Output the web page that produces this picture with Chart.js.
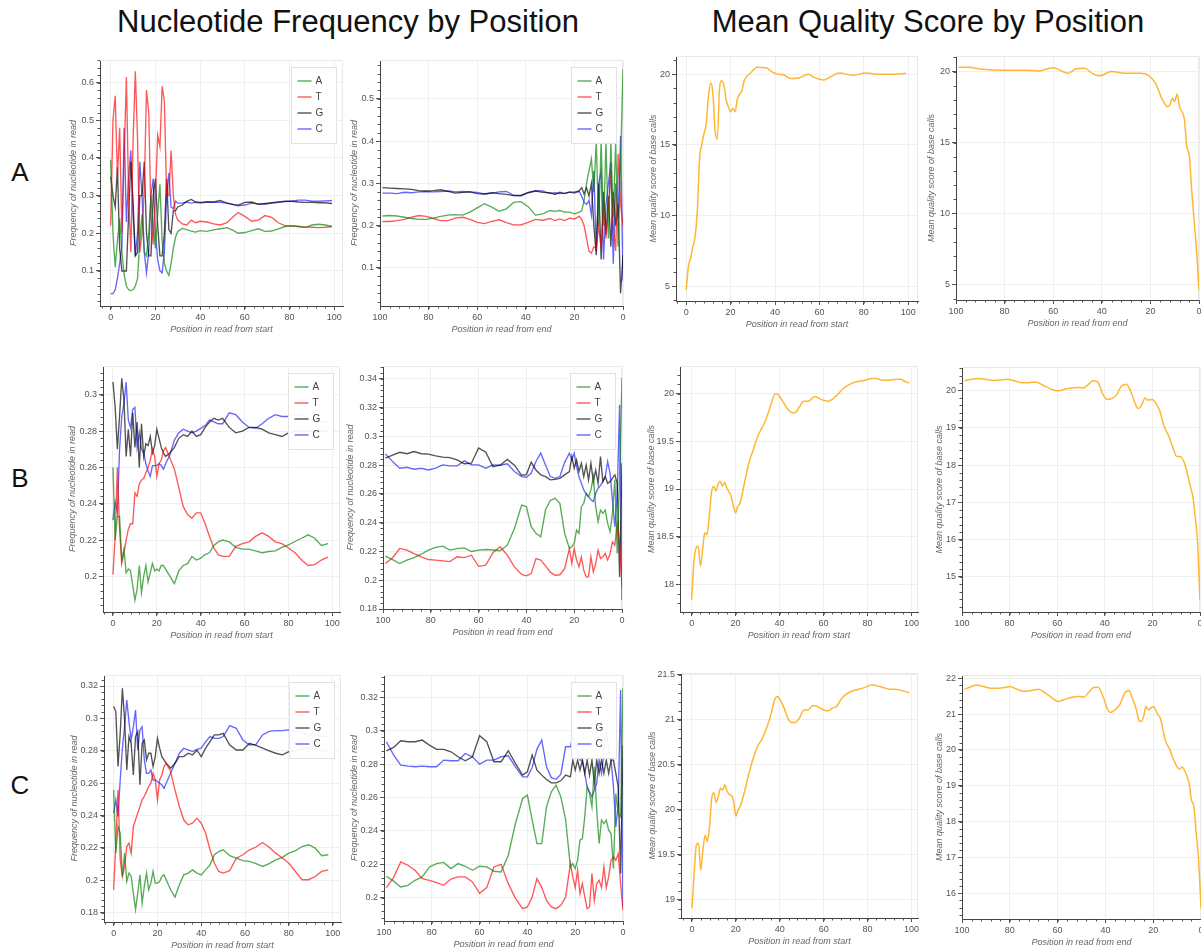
<!DOCTYPE html>
<html>
<head>
<meta charset="utf-8">
<script src="https://cdn.jsdelivr.net/npm/chart.js@4.4.1/dist/chart.umd.min.js"></script>
<style>
  body { margin: 0; width: 1201px; height: 951px; overflow: hidden; background: #fff; position: relative;
         font-family: "Liberation Sans", Arial, sans-serif; }
  .head { position: absolute; top: 4px; line-height: 36px; font-size: 31px; text-align: center; color: #111; white-space: nowrap; }
  .row { position: absolute; left: 4px; width: 32px; line-height: 32px; font-size: 26px; text-align: center; color: #111; }
  canvas { position: absolute; }
</style>
</head>
<body>
<div class="head" style="left:0;width:696px">Nucleotide Frequency by Position</div>
<div class="head" style="left:678px;width:500px">Mean Quality Score by Position</div>
<div class="row" style="top:156px">A</div>
<div class="row" style="top:462px">B</div>
<div class="row" style="top:769px">C</div>

<script>
// ---- data ----
// row A, nucleotide frequency from start
const posA1 = [0,1,2,3,4,5,6,7,8,9,10,11,12,13,14,15,16,17,18,19,20,21,22,23,24,25,26,27,28,29,30,
  32,34,36,38,40,43,46,49,52,55,57,60,63,66,69,72,75,78,81,84,87,90,93,96,99];
const a1A = [.395,.20,.11,.18,.24,.15,.09,.06,.05,.048,.05,.06,.08,.18,.25,.15,.14,.20,.30,.22,.16,.25,.33,.18,.12,.10,.088,.12,.16,.19,.205,
  .213,.21,.206,.203,.207,.205,.209,.212,.215,.207,.200,.202,.207,.212,.205,.206,.212,.218,.22,.218,.215,.222,.224,.222,.218];
const a1T = [.22,.50,.565,.35,.48,.20,.40,.615,.30,.15,.45,.63,.45,.15,.20,.32,.58,.52,.25,.17,.30,.46,.43,.59,.55,.30,.30,.42,.30,.25,.235,
  .225,.222,.235,.228,.232,.230,.225,.222,.228,.245,.255,.245,.232,.235,.247,.242,.228,.220,.219,.218,.217,.216,.215,.216,.218];
const a1G = [.35,.30,.27,.375,.16,.10,.10,.10,.25,.39,.28,.14,.15,.30,.30,.39,.20,.14,.14,.30,.345,.22,.14,.14,.20,.345,.21,.20,.26,.26,.27,
  .275,.285,.29,.283,.282,.283,.283,.287,.28,.276,.275,.282,.283,.277,.279,.281,.283,.285,.285,.283,.282,.282,.281,.281,.279];
const a1C = [.04,.04,.05,.08,.12,.165,.48,.23,.35,.42,.25,.14,.20,.39,.30,.15,.095,.15,.30,.345,.20,.13,.10,.095,.15,.30,.36,.27,.265,.285,.28,
  .28,.283,.28,.282,.28,.283,.282,.282,.28,.276,.273,.275,.28,.278,.277,.28,.282,.284,.285,.288,.288,.285,.285,.286,.287];

// row A, nucleotide frequency from end
const posA2 = [99,96,93,90,87,84,81,78,75,72,69,66,63,60,57,54,51,48,45,42,39,36,33,30,
  28,26,24,22,20,18,17,16,15,14,13,12,11,10,9,8,7,6,5,4,3,2,1,0];
const a2A = [.223,.224,.223,.22,.217,.215,.215,.218,.222,.225,.226,.225,.232,.242,.252,.244,.234,.24,.255,.257,.245,.225,.228,.236,
  .234,.236,.232,.232,.228,.232,.235,.26,.3,.33,.358,.28,.4,.2,.4,.2,.4,.17,.4,.22,.4,.15,.35,.57];
const a2T = [.21,.21,.212,.215,.22,.224,.222,.217,.212,.212,.218,.22,.215,.208,.205,.21,.214,.207,.202,.202,.208,.215,.213,.217,
  .212,.216,.212,.218,.216,.222,.215,.2,.17,.14,.135,.15,.145,.2,.15,.245,.17,.24,.33,.2,.14,.37,.25,.2];
const a2G = [.29,.289,.288,.287,.286,.283,.282,.283,.285,.281,.277,.279,.28,.276,.275,.278,.276,.274,.271,.272,.278,.282,.279,.278,
  .274,.279,.276,.28,.277,.283,.29,.275,.29,.27,.3,.2,.13,.3,.12,.28,.18,.27,.15,.28,.2,.25,.04,.13];
const a2C = [.277,.277,.276,.279,.278,.28,.281,.28,.281,.282,.28,.281,.28,.279,.275,.277,.28,.281,.272,.27,.279,.283,.282,.276,
  .278,.276,.277,.279,.28,.281,.27,.255,.25,.26,.225,.33,.14,.3,.33,.12,.25,.3,.35,.11,.3,.22,.412,.07];

// row A, quality
const posA3 = [0,1,2,3,4,5,6,7,8,9,10,11,12,13,14,15,16,17,18,19,20,21,22,23,24,25,26,27,
  29,32,36,39,42,44,47,51,55,57,62,65,69,75,81,87,93,99];
const qA3 = [4.72,6.4,7.0,7.8,8.5,10.3,14.0,15.0,15.8,16.5,18.4,19.4,18.7,16.0,15.4,19.0,19.55,19.2,18.2,17.7,17.35,17.6,17.35,18.2,18.6,18.8,19.5,19.8,
  20.1,20.5,20.47,20.14,20.0,19.95,19.7,19.76,20.0,19.83,19.6,19.83,20.1,19.93,20.1,20.0,20.0,20.07];
const posA4 = [99,95,89,81,72,66,60,54,51,47,44,41,36,30,24,21,18,15,13,12,11,10,9,8,6,5,4,3,2,1,0];
const qA4 = [20.3,20.3,20.16,20.1,20.1,20.05,20.28,19.88,20.16,20.23,19.88,19.7,20.0,19.88,19.88,19.76,19.2,18.0,17.53,17.65,
  18.12,17.9,18.42,17.53,16.6,14.7,14.1,11.6,9.5,7.4,4.6];

// rows B and C share the same sampled positions
const posStart = [0,1,2,3,4,5,6,7,8,9,10,11,12,13,14,15,16,17,18,19,20,21,22,23,24,
  26,28,30,32,34,36,38,40,42,44,46,48,50,53,56,59,62,65,68,71,74,77,80,83,86,89,92,95,98];
const posEnd = [99,96,93,90,87,84,81,78,75,72,69,66,63,60,57,54,51,48,45,42,
  40,38,36,34,32,30,28,26,24,22,21,20,19,18,17,16,15,14,13,12,11,10,9,8,7,6,5,4,3,2,1,0];

const b1A = [.260,.220,.233,.233,.209,.215,.202,.204,.203,.195,.187,.193,.206,.191,.200,.206,.197,.202,.207,.203,.204,.203,.206,.206,.204,
  .200,.196,.203,.206,.207,.211,.209,.210,.212,.213,.217,.219,.220,
  .219,.216,.215,.215,.214,.213,.2137,.214,.216,.2174,.2192,.221,.2229,.221,.217,.218];
const b1T = [.201,.222,.260,.226,.207,.213,.220,.226,.229,.229,.246,.244,.251,.253,.254,.257,.260,.264,.270,.266,.255,.262,.264,.269,.271,
  .265,.259,.249,.2385,.234,.232,.235,.235,.229,.222,.2156,.212,.211,
  .211,.2165,.218,.219,.222,.224,.222,.219,.218,.2156,.213,.209,.206,.2065,.209,.2106];
const b1G = [.307,.293,.270,.288,.309,.297,.266,.281,.266,.290,.271,.285,.260,.284,.266,.273,.272,.277,.268,.272,.281,.276,.271,.268,.266,
  .268,.271,.276,.278,.277,.280,.277,.278,.282,.285,.287,.286,.287,
  .282,.279,.280,.282,.282,.281,.279,.278,.277,.279,.28,.28,.28,.28,.28,.28];
const b1C = [.231,.241,.235,.270,.288,.295,.307,.286,.282,.292,.293,.271,.279,.270,.268,.262,.258,.255,.261,.261,.261,.262,.261,.259,.262,
  .267,.275,.279,.281,.280,.279,.280,.2815,.283,.286,.285,.284,.284,
  .290,.289,.285,.282,.2815,.284,.287,.289,.288,.288,.289,.289,.287,.286,.285,.285];

const b2A = [.2167,.2143,.2116,.214,.2158,.2181,.2209,.2228,.2237,.221,.222,.2225,.22,.221,.2214,.221,.2205,.2244,.236,.2523,
  .2512,.2372,.2326,.2302,.249,.2555,.257,.2535,.2326,.2221,
  .2233,.2256,.2349,.2326,.2512,.2535,.2605,.2581,.2628,.2721,.2512,.2407,.2488,.2465,.2488,.2395,.2337,.2465,.2698,.2186,.2721,.3407];
const b2T = [.2116,.2157,.2221,.221,.2185,.2163,.2144,.214,.2135,.213,.2163,.2157,.2174,.2097,.2105,.2192,.2233,.2175,.2093,.204,
  .2031,.2046,.2151,.214,.21,.2056,.2035,.2038,.2081,.222,
  .2116,.2221,.214,.2093,.2163,.207,.2023,.2023,.2163,.2058,.2116,.2209,.2151,.2163,.2186,.214,.2186,.2267,.2244,.2395,.2256,.1953];
const b2G = [.285,.287,.289,.288,.2895,.288,.2877,.2865,.2856,.2853,.2837,.281,.2814,.292,.289,.279,.280,.284,.280,.273,
  .2735,.282,.2767,.2733,.2721,.2698,.2702,.2709,.2733,.2756,
  .286,.2779,.2837,.2756,.2814,.2721,.2802,.2698,.2814,.2686,.2767,.2674,.286,.2686,.2721,.2674,.2686,.2709,.2733,.2674,.2023,.2814];
const b2C = [.2879,.2825,.2779,.2786,.2772,.2779,.2767,.2779,.2802,.2795,.2795,.283,.2802,.2802,.2779,.2802,.280,.281,.2756,.2721,
  .2716,.2744,.2826,.2884,.2802,.2721,.2709,.2721,.282,.2884,
  .2837,.2884,.2791,.272,.2674,.2628,.260,.2581,.256,.2547,.2605,.264,.266,.2686,.2721,.2826,.2744,.2558,.2372,.2605,.3221,.186];

const posB3 = [0,1,2,3,4,5,6,7,8,9,10,11,12,13,14,15,16,17,18,19,20,21,22,24,26,28,30,32,34,36,38,39,40,
  42,44,46,47,49,51,53,56,58,60,62,64,66,68,70,73,76,79,82,84,87,90,93,95,97,99];
const qB3 = [17.84,18.23,18.38,18.40,18.19,18.37,18.54,18.52,18.71,18.96,19.03,18.98,19.05,19.08,19.03,19.07,19.01,18.97,18.92,18.82,
  18.75,18.82,18.85,19.06,19.27,19.41,19.55,19.64,19.74,19.88,20.0,20.0,19.97,
  19.9,19.83,19.8,19.8,19.86,19.92,19.92,19.97,19.95,19.93,19.92,19.94,19.98,20.03,20.07,20.11,20.13,20.14,20.16,20.16,20.14,20.14,20.15,20.15,20.13,20.11];
const posB4 = [99,96,93,90,87,84,81,78,75,72,69,66,63,60,57,54,51,49,47,45,43,41,39,37,35,33,31,29,27,26,25,23,22,20,19,17,15,13,11,10,8,6,5,4,3,2,1,0];
const qB4 = [20.26,20.3,20.32,20.3,20.27,20.28,20.3,20.26,20.21,20.21,20.23,20.14,20.05,19.99,20.03,20.07,
  20.08,20.07,20.16,20.26,20.23,19.92,19.76,19.79,19.89,20.12,20.17,19.96,19.61,19.52,19.56,19.8,19.74,19.76,19.7,19.47,
  19.03,18.76,18.4,18.24,18.22,17.95,17.68,17.42,17.15,16.61,15.9,14.37];

const c1A = [.2559,.2168,.2333,.2291,.2024,.2168,.1993,.2045,.2024,.1921,.1819,.1921,.2034,.186,.1963,.2045,.1942,.1983,.2055,.1983,.1983,.1993,.2024,.2034,.2004,
  .1942,.1897,.1973,.2034,.2045,.2065,.2045,.2034,.2065,.2096,.2158,.2178,.2189,
  .2152,.2137,.2122,.2117,.2104,.2086,.2103,.2127,.2142,.2168,.2183,.2209,.222,.2199,.2152,.2158];
const c1T = [.1942,.223,.2559,.2127,.2024,.2086,.2209,.223,.2168,.2333,.2374,.2415,.2456,.2497,.2518,.2548,.2579,.26,.2661,.262,.2497,.262,.2651,.2703,.2723,
  .2672,.2559,.2456,.2374,.2343,.2353,.2384,.2353,.2291,.2189,.2106,.2055,.2045,
  .206,.2137,.2158,.2189,.2206,.2234,.2205,.2168,.2138,.2106,.2055,.2004,.2004,.2024,.2055,.2065];
const c1G = [.3073,.3042,.2703,.2908,.3186,.299,.2682,.2888,.2846,.2651,.2888,.2918,.259,.2846,.2867,.2744,.2785,.2785,.2703,.2764,.2877,.2816,.2764,.2744,.2723,
  .2692,.2723,.2764,.2764,.2785,.2775,.2805,.2764,.2816,.2857,.2898,.2898,.2908,
  .2836,.2805,.2805,.2846,.2833,.2816,.28,.2785,.2775,.2795,.28,.281,.282,.281,.28,.28];
const c1C = [.2415,.2497,.2394,.262,.2816,.2949,.3114,.298,.2867,.2949,.3052,.2805,.2929,.2949,.2744,.2661,.2661,.2682,.262,.262,.261,.26,.259,.2569,.26,
  .2661,.2723,.2785,.2816,.2805,.2795,.2809,.2816,.2857,.2888,.2877,.2877,.2888,
  .2955,.2939,.2867,.2836,.284,.2898,.292,.2925,.2925,.2929,.292,.291,.29,.2895,.289,.2888];

const c2A = [.2128,.2099,.2064,.2074,.2104,.2124,.2184,.2204,.2211,.2174,.2204,.2188,.2164,.2188,.2184,.2158,.2154,.2254,.2444,.2594,
  .2614,.2464,.2324,.2324,.2544,.2634,.2674,.2604,.2464,.2184,
  .2204,.2174,.2224,.2344,.2354,.2484,.2664,.2624,.2544,.2784,.2524,.2324,.2464,.2444,.2464,.2404,.2384,.2174,.2624,.2504,.2484,.3254];
const c2T = [.206,.212,.2214,.2194,.2164,.2114,.2104,.209,.2074,.2111,.2124,.2124,.2094,.2026,.206,.2184,.22,.2084,.1996,.1934,
  .1944,.2004,.2114,.206,.1984,.1944,.1934,.1954,.2004,.2204,
  .2124,.206,.2164,.2024,.2084,.2004,.1934,.1944,.2144,.1984,.2084,.2104,.206,.2184,.206,.2124,.2224,.2244,.2224,.2264,.2084,.1924];
const c2G = [.288,.29,.294,.2934,.2934,.2944,.2914,.2888,.2888,.2874,.2844,.282,.2844,.297,.2934,.2814,.2814,.288,.2804,.2734,
  .2754,.2854,.2764,.2734,.2708,.2688,.2688,.27,.2734,.2724,
  .2824,.2764,.2824,.2764,.2824,.2744,.2824,.2734,.2824,.2684,.2824,.2744,.2824,.2744,.2824,.2744,.2824,.2824,.2744,.2664,.2144,.2914];
const c2C = [.2934,.2856,.2794,.2788,.2784,.2788,.2784,.2784,.2824,.282,.282,.2864,.2844,.28,.2824,.2824,.2844,.285,.2784,.2724,
  .2724,.278,.289,.2944,.2784,.2719,.2709,.274,.2904,.2904,
  .2964,.2904,.2864,.2824,.2824,.2744,.2664,.2634,.2604,.2644,.2684,.2824,.2744,.2864,.30,.2884,.2824,.2664,.2424,.2564,.3244,.1944];

const posC3 = [0,1,2,3,4,5,6,7,8,9,10,11,12,13,14,15,16,17,18,19,20,21,22,24,26,28,30,32,34,36,37,38,39,40,
  42,44,46,47,49,51,53,55,57,60,62,64,66,68,70,73,76,79,82,84,87,90,92,95,99];
const qC3 = [18.91,19.3,19.61,19.63,19.33,19.56,19.72,19.65,19.82,20.13,20.19,20.08,20.15,20.24,20.22,20.28,20.21,20.17,20.16,20.09,
  19.93,20.0,20.04,20.21,20.41,20.58,20.71,20.79,20.91,21.06,21.17,21.24,21.26,21.23,
  21.13,21.0,20.97,20.97,21.02,21.11,21.11,21.16,21.15,21.11,21.1,21.13,21.15,21.23,21.28,21.32,21.34,21.36,21.39,21.38,21.36,21.34,21.34,21.33,21.3];
const posC4 = [99,96,94,91,88,85,82,80,77,74,71,68,65,62,60,57,54,51,49,47,45,43,41,39,38,36,34,32,30,29,
  27,26,25,24,23,22,20,18,17,15,13,12,10,9,8,7,5,4,3,2,1,0];
const qC4 = [21.69,21.77,21.81,21.77,21.72,21.72,21.74,21.77,21.69,21.63,21.66,21.69,21.58,21.44,21.35,21.41,21.47,21.49,21.47,21.6,
  21.74,21.75,21.49,21.12,21.04,21.12,21.26,21.58,21.66,21.49,
  21.12,20.82,20.79,20.93,21.21,21.12,21.21,20.98,20.88,20.28,20.0,19.81,19.53,19.46,19.52,19.44,19.07,18.6,18.42,17.67,16.93,15.58];

const xTicks = [0, 20, 40, 60, 80, 100];
const nucLabels = ['A', 'T', 'G', 'C'];

// ---- styling ----
const FONT = '"Liberation Sans", Arial, sans-serif';
const nucColors = { A: 'rgba(0,128,0,0.66)', T: 'rgba(255,0,0,0.66)', G: 'rgba(0,0,0,0.68)', C: 'rgba(0,0,255,0.6)' };
const qualColor = 'rgba(255,165,0,0.8)';

const panels = [
  { box: [100, 60, 343, 306],      x: [-4.8, 103.9], rev: false, y: [0.007, 0.66],   yt: [.1,.2,.3,.4,.5,.6], ym: .02, gap: 27,
    pos: posA1, nuc: [a1A, a1T, a1G, a1C] },
  { box: [380, 60, 623.3, 305.7],  x: [0, 100], rev: true, y: [0.01, 0.592],   yt: [.1,.2,.3,.4,.5], ym: .02, gap: 26,
    pos: posA2, nuc: [a2A, a2T, a2G, a2C] },
  { box: [675.7, 56, 918, 301],    x: [-4.6, 104.4], rev: false, y: [3.94, 21.3], yt: [5,10,15,20], ym: 1, gap: 22.4,
    pos: posA3, q: qA3 },
  { box: [955.7, 56, 1199, 300],   x: [0, 100], rev: true, y: [3.9, 21.1],      yt: [5,10,15,20], ym: 1, gap: 24.7,
    pos: posA4, q: qA4 },
  { box: [102.7, 366, 340, 612.3], x: [-4.55, 103.5], rev: false, y: [0.1804, 0.3158], yt: [.2,.22,.24,.26,.28,.3], ym: .004, gap: 31,
    pos: posStart, nuc: [b1A, b1T, b1G, b1C] },
  { box: [383.3, 366, 622.3, 609], x: [0, 100], rev: true, y: [0.18, 0.349], yt: [.18,.2,.22,.24,.26,.28,.3,.32,.34], ym: .004, gap: 32.6,
    pos: posEnd, nuc: [b2A, b2T, b2G, b2C] },
  { box: [680, 366, 918, 612.3],   x: [-5.3, 103], rev: false, y: [17.71, 20.29], yt: [18,18.5,19,19.5,20], ym: .1, gap: 28.3,
    pos: posB3, q: qB3 },
  { box: [961.7, 366.7, 1200, 611.7], x: [0, 100], rev: true, y: [14.06, 20.63], yt: [15,16,17,18,19,20], ym: .2, gap: 22.7,
    pos: posB4, q: qB4 },
  { box: [104.3, 675, 341.7, 922.3], x: [-4.4, 103.8], rev: false, y: [0.1743, 0.3268], yt: [.18,.2,.22,.24,.26,.28,.3,.32], ym: .004, gap: 30,
    pos: posStart, nuc: [c1A, c1T, c1G, c1C] },
  { box: [384.3, 675, 623.3, 920.7], x: [0, 100], rev: true, y: [0.186, 0.3334], yt: [.2,.22,.24,.26,.28,.3,.32], ym: .004, gap: 30,
    pos: posEnd, nuc: [c2A, c2T, c2G, c2C] },
  { box: [680.7, 673.3, 918, 918.3], x: [-5, 103], rev: false, y: [18.8, 21.52], yt: [19,19.5,20,20.5,21,21.5], ym: .1, gap: 29,
    pos: posC3, q: qC3 },
  { box: [961.7, 675, 1200.7, 919], x: [0, 100], rev: true, y: [15.28, 22.09], yt: [16,17,18,19,20,21,22], ym: .2, gap: 22.7,
    pos: posC4, q: qC4 }
];

const fmt = v => String(+(+v).toFixed(4));

// short minor ticks outside the axes, as bokeh draws them
const minorTicks = {
  id: 'minorTicks',
  afterDraw(chart, args, opts) {
    const ctx = chart.ctx, a = chart.chartArea;
    ctx.save();
    ctx.strokeStyle = '#555';
    ctx.lineWidth = 1;
    ctx.beginPath();
    const xs = chart.scales.x, ys = chart.scales.y;
    for (let i = Math.ceil(xs.min / opts.x - 1e-9); i * opts.x <= xs.max + 1e-9; i++) {
      const px = Math.round(xs.getPixelForValue(i * opts.x)) + 0.5;
      ctx.moveTo(px, a.bottom); ctx.lineTo(px, a.bottom + 2.5);
    }
    for (let i = Math.ceil(ys.min / opts.y - 1e-9); i * opts.y <= ys.max + 1e-9; i++) {
      const py = Math.round(ys.getPixelForValue(i * opts.y)) + 0.5;
      ctx.moveTo(a.left, py); ctx.lineTo(a.left - 2.5, py);
    }
    ctx.stroke();
    ctx.restore();
  }
};

// faint outline on the top and right of the plot frame
const frame = {
  id: 'frame',
  beforeDatasetsDraw(chart) {
    const ctx = chart.ctx, a = chart.chartArea;
    ctx.save();
    ctx.strokeStyle = '#e8e8e8';
    ctx.lineWidth = 1;
    ctx.beginPath();
    ctx.moveTo(a.left, Math.round(a.top) + 0.5);
    ctx.lineTo(Math.round(a.right) - 0.5, Math.round(a.top) + 0.5);
    ctx.lineTo(Math.round(a.right) - 0.5, a.bottom);
    ctx.stroke();
    ctx.restore();
  }
};

// legend box inside the top right corner of the plot
const boxLegend = {
  id: 'boxLegend',
  afterDatasetsDraw(chart) {
    const ctx = chart.ctx, a = chart.chartArea;
    const w = 45, h = 76;
    const x0 = Math.round(a.right - 7 - w) + 0.5, y0 = Math.round(a.top + 7) + 0.5;
    ctx.save();
    ctx.fillStyle = 'rgba(255,255,255,0.93)';
    ctx.fillRect(x0, y0, w, h);
    ctx.strokeStyle = '#e2e2e2';
    ctx.lineWidth = 1;
    ctx.strokeRect(x0, y0, w, h);
    ctx.font = '10px ' + FONT;
    ctx.textBaseline = 'middle';
    chart.data.datasets.forEach((d, i) => {
      const cy = Math.round(y0 + 13.5 + i * 16);
      ctx.strokeStyle = d.borderColor;
      ctx.lineWidth = 1.4;
      ctx.beginPath();
      ctx.moveTo(x0 + 6, cy); ctx.lineTo(x0 + 20, cy);
      ctx.stroke();
      ctx.fillStyle = '#444';
      ctx.fillText(d.label, x0 + 24, cy + 0.5);
    });
    ctx.restore();
  }
};

function makeChart(p) {
  const [l, t, r, b] = p.box;
  const yW = Math.round(p.gap + 5.4);
  const xH = 29, padT = 4, padR = 4;
  const left = Math.round(l) - yW, top = Math.round(t) - padT;
  const cv = document.createElement('canvas');
  cv.width = Math.round(r - l) + yW + padR;
  cv.height = Math.round(b - t) + padT + xH;
  cv.style.left = left + 'px';
  cv.style.top = top + 'px';
  document.body.appendChild(cv);

  const isNuc = !!p.nuc;
  const datasets = isNuc
    ? nucLabels.map((k, i) => ({
        label: k,
        data: p.pos.map((x, j) => ({ x: x, y: p.nuc[i][j] })),
        borderColor: nucColors[k], borderWidth: 1.35, pointRadius: 0, tension: 0, fill: false
      }))
    : [{
        label: 'quality',
        data: p.pos.map((x, j) => ({ x: x, y: p.q[j] })),
        borderColor: qualColor, borderWidth: 1.5, pointRadius: 0, cubicInterpolationMode: 'monotone', fill: false
      }];

  const tickFont = { size: 9, family: FONT };
  const titleFont = { size: 9, family: FONT, style: 'italic' };

  new Chart(cv, {
    type: 'line',
    data: { datasets: datasets },
    options: {
      responsive: false,
      animation: false,
      events: [],
      layout: { padding: { top: padT, right: padR, left: 0, bottom: 0 } },
      plugins: { legend: { display: false }, tooltip: { enabled: false }, minorTicks: { x: 4, y: p.ym } },
      scales: {
        x: {
          type: 'linear', min: p.x[0], max: p.x[1], reverse: p.rev,
          afterBuildTicks: s => { s.ticks = xTicks.map(v => ({ value: v })); },
          afterFit: s => { s.height = xH; s.paddingLeft = 0; s.paddingRight = 0; },
          grid: { color: '#efefef', tickColor: '#555', tickLength: 4 },
          border: { color: '#444', width: 1 },
          ticks: { font: tickFont, color: '#555', padding: 2, maxRotation: 0, autoSkip: false, callback: fmt },
          title: { display: true, text: p.rev ? 'Position in read from end' : 'Position in read from start',
                   font: titleFont, color: '#666', padding: 0 }
        },
        y: {
          type: 'linear', min: p.y[0], max: p.y[1],
          afterBuildTicks: s => { s.ticks = p.yt.map(v => ({ value: v })); },
          afterFit: s => { s.width = yW; s.paddingTop = 0; s.paddingBottom = 0; },
          grid: { color: '#efefef', tickColor: '#555', tickLength: 4 },
          border: { color: '#444', width: 1 },
          ticks: { font: tickFont, color: '#555', padding: 2, autoSkip: false, callback: fmt },
          title: { display: true, text: isNuc ? 'Frequency of nucleotide in read' : 'Mean quality score of base calls',
                   font: titleFont, color: '#666', padding: 0 }
        }
      }
    },
    plugins: isNuc ? [frame, minorTicks, boxLegend] : [frame, minorTicks]
  });
}

panels.forEach(makeChart);
</script>
</body>
</html>
